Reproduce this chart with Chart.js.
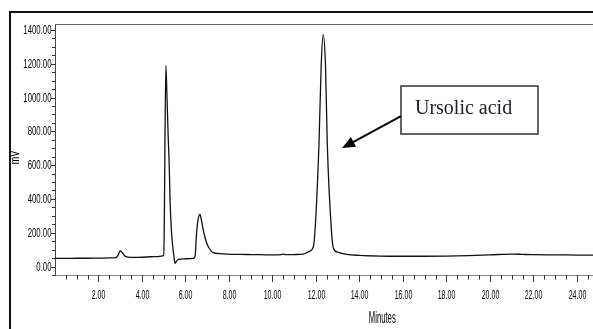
<!DOCTYPE html>
<html>
<head>
<meta charset="utf-8">
<script src="https://cdn.jsdelivr.net/npm/chart.js@4.4.0/dist/chart.umd.min.js"></script>
<style>
  html, body { margin: 0; padding: 0; background: #fff; overflow: hidden; }
  #wrap { position: relative; width: 593px; height: 329px; overflow: hidden; }
  #frame { position: absolute; left: 9px; top: 11px; width: 700px; height: 400px; border: 2px solid #111; box-sizing: border-box; }
  canvas { position: absolute; left: 0; top: 0; }
</style>
</head>
<body>
<div id="wrap">
  <div id="frame"></div>
  <canvas id="c" width="593" height="329"></canvas>
</div>
<script>
// Retention time (minutes)
const timeMin = [0.0, 0.5, 1.0, 1.5, 2.0, 2.5, 2.8, 2.9, 2.99, 3.1, 3.2, 3.35, 3.6, 4.0, 4.4, 4.7, 4.9,
  5.0, 5.03, 5.06, 5.10, 5.15, 5.21, 5.25, 5.29, 5.36, 5.47, 5.52, 5.58, 5.67, 5.9, 6.2, 6.36,
  6.44, 6.51, 6.59, 6.67, 6.73, 6.85, 6.95, 7.05, 7.28, 7.6, 7.9, 8.5, 9.0, 9.5, 10.0, 10.4, 10.5, 10.6,
  11.0, 11.42, 11.7, 11.88, 11.95, 12.14, 12.24, 12.33, 12.44, 12.52, 12.72, 12.8, 13.0, 13.41,
  14.0, 14.94, 16.0, 17.0, 17.97, 19.0, 20.0, 21.0, 21.5, 22.0, 23.0, 24.1, 24.74];
// Detector response (mV)
const signalMV = [48, 48, 49, 49, 50, 51, 53, 66, 92, 82, 64, 56, 54, 55, 58, 59, 62,
  68, 300, 800, 1188, 1000, 750, 613, 394, 198, 58, 19, 30, 43, 45, 47, 49,
  60, 197, 286, 309, 276, 197, 150, 117, 82, 76, 74, 72, 71, 70, 69, 70, 73, 70,
  71, 74, 90, 117, 198, 730, 1184, 1372, 1184, 730, 198, 110, 85, 72,
  66, 62, 61, 61, 62, 65, 69, 74, 72, 70, 69, 68, 67];

// Axis ranges and tick steps
const xRange = [0, 24.74];
const yRange = [-50, 1435];
const xMinorStep = 0.5, xLabelStep = 2;
const yMinorStep = 50, yLabelStep = 200, yLastTick = 1400;
const yTitle = "mV";
const xTitle = "Minutes";
const annotationLabel = "Ursolic acid";

const points = timeMin.map((t, i) => ({ x: t, y: signalMV[i] }));
const labelFamily = "'Liberation Sans', Arial, sans-serif";

function stepTicks(from, to, step) {
  const out = [];
  const n = Math.floor((to - from) / step + 1e-9);
  for (let i = 0; i <= n; i++) out.push({ value: +(from + i * step).toFixed(6) });
  return out;
}
function isMultiple(v, step) {
  const r = v / step;
  return Math.abs(r - Math.round(r)) < 1e-6;
}
function squeezedText(ctx, text, x, y, sx, align, rot) {
  ctx.save();
  ctx.translate(x, y);
  if (rot) ctx.rotate(rot);
  ctx.scale(sx, 1);
  ctx.textAlign = align;
  ctx.textBaseline = 'middle';
  ctx.fillText(text, 0, 0);
  ctx.restore();
}

const decorPlugin = {
  id: 'decor',
  afterDraw(chart) {
    const ctx = chart.ctx;
    const xs = chart.scales.x, ys = chart.scales.y;
    const area = chart.chartArea;
    ctx.save();
    // top border of plot
    ctx.strokeStyle = '#666';
    ctx.lineWidth = 1;
    ctx.beginPath();
    ctx.moveTo(area.left, Math.round(area.top) + 0.5);
    ctx.lineTo(593, Math.round(area.top) + 0.5);
    ctx.stroke();
    // y ticks + labels
    ctx.strokeStyle = '#333';
    ctx.fillStyle = '#000';
    ctx.font = '13px ' + labelFamily;
    ys.ticks.forEach(t => {
      const p = Math.round(ys.getPixelForValue(t.value)) + 0.5;
      const major = isMultiple(t.value, yLabelStep);
      ctx.beginPath();
      ctx.moveTo(area.left, p);
      ctx.lineTo(area.left - (major ? 4 : 3), p);
      ctx.stroke();
      if (major && t.value >= 0) squeezedText(ctx, t.value.toFixed(2), area.left - 3.5, p, 0.6, 'right');
    });
    // x ticks + labels
    ctx.font = '13.5px ' + labelFamily;
    xs.ticks.forEach(t => {
      if (t.value <= 0) return;
      const p = Math.round(xs.getPixelForValue(t.value)) + 0.5;
      const major = isMultiple(t.value, xLabelStep);
      ctx.beginPath();
      ctx.moveTo(p, area.bottom);
      ctx.lineTo(p, area.bottom + (major ? 7 : 4.5));
      ctx.stroke();
      if (major) squeezedText(ctx, t.value.toFixed(2), p, area.bottom + 20, 0.52, 'center');
    });
    // axis titles
    ctx.font = '16px ' + labelFamily;
    squeezedText(ctx, xTitle, xs.getPixelForValue(15.05), 319, 0.48, 'center');
    ctx.font = '12px ' + labelFamily;
    squeezedText(ctx, yTitle, 16, ys.getPixelForValue(645), 0.75, 'center', -Math.PI / 2);
    // annotation box
    const bx1 = xs.getPixelForValue(15.91), bx2 = xs.getPixelForValue(22.21);
    const by1 = ys.getPixelForValue(1068), by2 = ys.getPixelForValue(784);
    ctx.fillStyle = '#fff';
    ctx.fillRect(bx1, by1, bx2 - bx1, by2 - by1);
    ctx.strokeStyle = '#333';
    ctx.lineWidth = 1.5;
    ctx.strokeRect(bx1, by1, bx2 - bx1, by2 - by1);
    ctx.fillStyle = '#1c1c28';
    ctx.font = "20px 'Liberation Serif', 'Times New Roman', serif";
    ctx.textAlign = 'left';
    ctx.textBaseline = 'alphabetic';
    ctx.fillText(annotationLabel, bx1 + 14, by1 + 28);
    // arrow
    const ax1 = bx1, ay1 = ys.getPixelForValue(890);
    const ax2 = xs.getPixelForValue(13.2), ay2 = ys.getPixelForValue(701);
    const ang = Math.atan2(ay2 - ay1, ax2 - ax1);
    const hl = 13, hw = 5.5;
    ctx.strokeStyle = '#000';
    ctx.lineWidth = 2;
    ctx.beginPath();
    ctx.moveTo(ax1, ay1);
    ctx.lineTo(ax2 - Math.cos(ang) * hl * 0.8, ay2 - Math.sin(ang) * hl * 0.8);
    ctx.stroke();
    ctx.fillStyle = '#000';
    ctx.beginPath();
    ctx.moveTo(ax2, ay2);
    ctx.lineTo(ax2 - Math.cos(ang) * hl - Math.sin(ang) * hw, ay2 - Math.sin(ang) * hl + Math.cos(ang) * hw);
    ctx.lineTo(ax2 - Math.cos(ang) * hl + Math.sin(ang) * hw, ay2 - Math.sin(ang) * hl - Math.cos(ang) * hw);
    ctx.closePath();
    ctx.fill();
    ctx.restore();
  }
};

new Chart(document.getElementById('c'), {
  type: 'line',
  data: {
    datasets: [{
      data: points,
      borderColor: '#111',
      borderWidth: 1.3,
      pointRadius: 0,
      cubicInterpolationMode: 'monotone',
      fill: false
    }]
  },
  options: {
    responsive: false,
    animation: false,
    layout: { padding: { left: 10, top: 24, right: 0, bottom: 0 } },
    plugins: { legend: { display: false }, tooltip: { enabled: false } },
    scales: {
      x: {
        type: 'linear',
        min: xRange[0],
        max: xRange[1],
        grid: { display: false },
        border: { display: true, color: '#888', width: 1 },
        afterFit: s => { s.height = 54; s.paddingLeft = 0; s.paddingRight = 0; },
        afterBuildTicks: s => { s.ticks = stepTicks(xRange[0], xRange[1], xMinorStep); },
        ticks: { display: false, autoSkip: false }
      },
      y: {
        type: 'linear',
        min: yRange[0],
        max: yRange[1],
        grid: { display: false },
        border: { display: true, color: '#444', width: 1 },
        afterFit: s => { s.width = 45; s.paddingTop = 0; s.paddingBottom = 0; },
        afterBuildTicks: s => { s.ticks = stepTicks(yRange[0], yLastTick, yMinorStep); },
        ticks: { display: false, autoSkip: false }
      }
    }
  },
  plugins: [decorPlugin]
});
</script>
</body>
</html>
